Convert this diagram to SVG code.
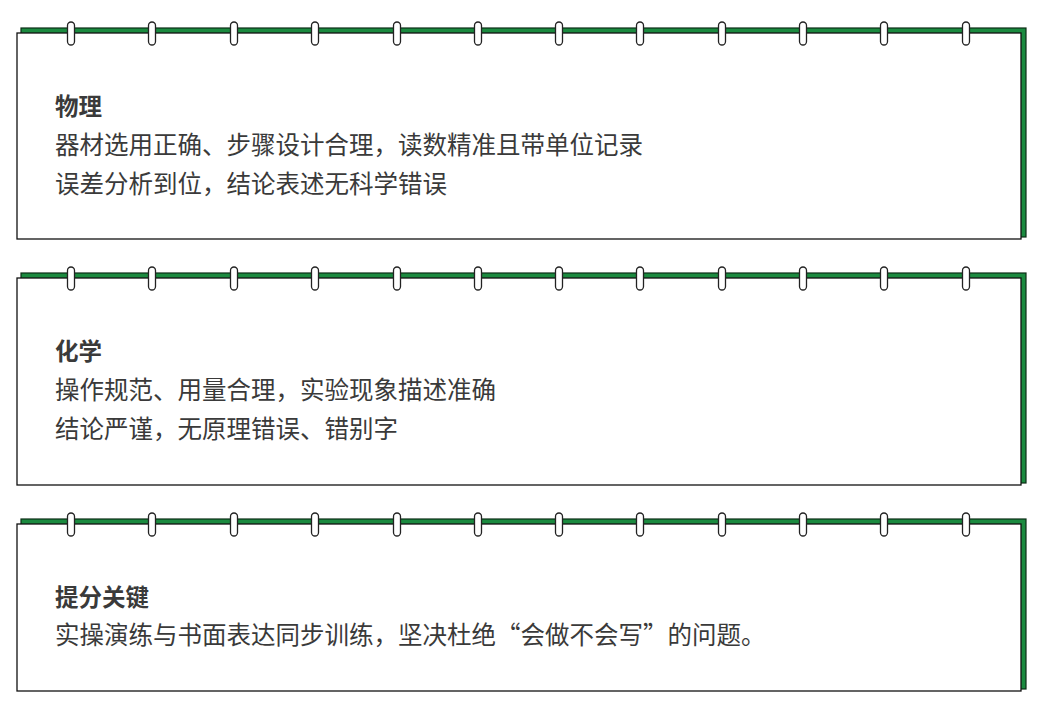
<svg xmlns="http://www.w3.org/2000/svg" width="1047" height="714" viewBox="0 0 1047 714">
<defs>
<style>
.back{fill:#1b8a3f;stroke:#0c2d16;stroke-width:1.2}
.front{fill:#fff;stroke:#111;stroke-width:1.3}
.ring{fill:#fff;stroke:#222;stroke-width:1.3}
.t{font-family:"Noto Sans CJK SC","Noto Sans",sans-serif;fill:#3a3a3a}
.h{font-size:23.5px;font-weight:bold}
.b{font-size:24.5px}
</style>
<g id="rings">
<rect class="ring" x="-3.5" y="-11" width="7" height="23" rx="3.5"/>
</g>
</defs>
<rect width="1047" height="714" fill="#fff"/>
<g id="panel1">
<rect class="back" x="21" y="28" width="1005" height="209"/>
<rect class="front" x="17" y="33" width="1004" height="206"/>
<g transform="translate(0,33)">
<use href="#rings" x="71"/><use href="#rings" x="152"/><use href="#rings" x="234"/><use href="#rings" x="315"/><use href="#rings" x="397"/><use href="#rings" x="478"/><use href="#rings" x="559"/><use href="#rings" x="640"/><use href="#rings" x="722"/><use href="#rings" x="803"/><use href="#rings" x="884"/><use href="#rings" x="966"/>
</g>
<text class="t h" x="55" y="115">物理</text>
<text class="t b" x="55" y="154">器材选用正确、步骤设计合理，读数精准且带单位记录</text>
<text class="t b" x="55" y="193">误差分析到位，结论表述无科学错误</text>
</g>
<g id="panel2">
<rect class="back" x="21" y="273" width="1005" height="210"/>
<rect class="front" x="17" y="278" width="1004" height="207"/>
<g transform="translate(0,278)">
<use href="#rings" x="71"/><use href="#rings" x="152"/><use href="#rings" x="234"/><use href="#rings" x="315"/><use href="#rings" x="397"/><use href="#rings" x="478"/><use href="#rings" x="559"/><use href="#rings" x="640"/><use href="#rings" x="722"/><use href="#rings" x="803"/><use href="#rings" x="884"/><use href="#rings" x="966"/>
</g>
<text class="t h" x="55" y="360">化学</text>
<text class="t b" x="55" y="399">操作规范、用量合理，实验现象描述准确</text>
<text class="t b" x="55" y="438">结论严谨，无原理错误、错别字</text>
</g>
<g id="panel3">
<rect class="back" x="21" y="519" width="1005" height="170"/>
<rect class="front" x="17" y="524" width="1004" height="167"/>
<g transform="translate(0,524)">
<use href="#rings" x="71"/><use href="#rings" x="152"/><use href="#rings" x="234"/><use href="#rings" x="315"/><use href="#rings" x="397"/><use href="#rings" x="478"/><use href="#rings" x="559"/><use href="#rings" x="640"/><use href="#rings" x="722"/><use href="#rings" x="803"/><use href="#rings" x="884"/><use href="#rings" x="966"/>
</g>
<text class="t h" x="55" y="606">提分关键</text>
<text class="t b" x="55" y="644">实操演练与书面表达同步训练，坚决杜绝“会做不会写”的问题。</text>
</g>
</svg>
